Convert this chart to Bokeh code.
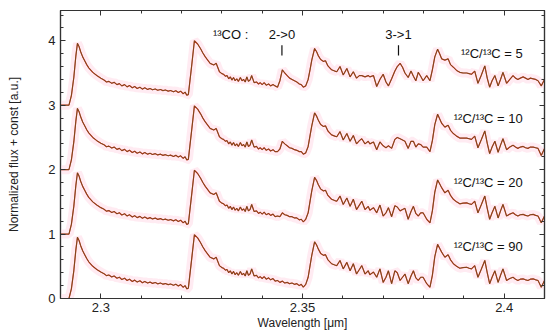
from bokeh.plotting import figure
from bokeh.models import LinearAxis, Range1d, FixedTicker, Label
from bokeh.embed import file_html
from bokeh.resources import INLINE

# ---------------- data ----------------
wavelength = [
    2.2900, 2.2921, 2.2927, 2.2933, 2.2938, 2.2942, 2.2946, 2.2950, 2.2955, 2.2960,
    2.2965, 2.2970, 2.2980, 2.2990, 2.3000, 2.3008, 2.3014, 2.3020, 2.3027, 2.3033,
    2.3040, 2.3046, 2.3052, 2.3059, 2.3065, 2.3071, 2.3078, 2.3084, 2.3090, 2.3097,
    2.3103, 2.3109, 2.3116, 2.3122, 2.3128, 2.3135, 2.3141, 2.3148, 2.3154, 2.3160,
    2.3167, 2.3173, 2.3180, 2.3186, 2.3192, 2.3198, 2.3204, 2.3209, 2.3213, 2.3217,
    2.3225, 2.3232, 2.3240, 2.3247, 2.3253, 2.3259, 2.3265, 2.3271, 2.3280, 2.3286,
    2.3294, 2.3300, 2.3304, 2.3309, 2.3313, 2.3317, 2.3321, 2.3325, 2.3329, 2.3333,
    2.3337, 2.3341, 2.3346, 2.3350, 2.3354, 2.3358, 2.3362, 2.3366, 2.3370, 2.3374,
    2.3380, 2.3386, 2.3391, 2.3395, 2.3400, 2.3405, 2.3410, 2.3416, 2.3421, 2.3427,
    2.3432, 2.3438, 2.3444, 2.3450, 2.3456, 2.3462, 2.3468, 2.3474, 2.3480, 2.3486,
    2.3492, 2.3497, 2.3502, 2.3508, 2.3514, 2.3519, 2.3523, 2.3530, 2.3535, 2.3539,
    2.3545, 2.3552, 2.3557, 2.3563, 2.3572, 2.3580, 2.3585, 2.3593, 2.3601, 2.3610,
    2.3618, 2.3626, 2.3634, 2.3641, 2.3647, 2.3655, 2.3663, 2.3667, 2.3676, 2.3684,
    2.3692, 2.3700, 2.3707, 2.3713, 2.3721, 2.3729, 2.3735, 2.3742, 2.3748, 2.3754,
    2.3762, 2.3769, 2.3775, 2.3781, 2.3787, 2.3793, 2.3799, 2.3808, 2.3816, 2.3822,
    2.3828, 2.3835, 2.3840, 2.3845, 2.3853, 2.3861, 2.3867, 2.3874, 2.3882, 2.3890,
    2.3898, 2.3907, 2.3913, 2.3919, 2.3927, 2.3935, 2.3943, 2.3952, 2.3958, 2.3964,
    2.3970, 2.3977, 2.3985, 2.3991, 2.3997, 2.4006, 2.4014, 2.4022, 2.4028, 2.4034,
    2.4040, 2.4047, 2.4053, 2.4059, 2.4065, 2.4072, 2.4078, 2.4084, 2.4092, 2.4100,
]

flux_r5 = [
    0.00, 0.00, 0.15, 0.43, 0.76, 0.96, 0.91, 0.83, 0.75, 0.69,
    0.63, 0.58, 0.51, 0.46, 0.42, 0.39, 0.36, 0.37, 0.34, 0.355,
    0.32, 0.335, 0.30, 0.32, 0.285, 0.305, 0.27, 0.29, 0.26, 0.28,
    0.25, 0.27, 0.245, 0.26, 0.24, 0.252, 0.232, 0.244, 0.226, 0.236,
    0.218, 0.228, 0.208, 0.225, 0.198, 0.218, 0.178, 0.203, 0.155, 0.165,
    0.60, 1.00, 0.95, 0.88, 0.81, 0.75, 0.70, 0.65, 0.625, 0.65,
    0.52, 0.49, 0.48, 0.45, 0.46, 0.41, 0.44, 0.39, 0.43, 0.38,
    0.41, 0.37, 0.43, 0.38, 0.40, 0.36, 0.44, 0.37, 0.39, 0.46,
    0.35, 0.36, 0.33, 0.35, 0.32, 0.35, 0.31, 0.33, 0.30, 0.32,
    0.30, 0.28, 0.38, 0.55, 0.50, 0.46, 0.42, 0.40, 0.38, 0.36,
    0.33, 0.32, 0.28, 0.30, 0.40, 0.56, 0.70, 0.88, 0.83, 0.77,
    0.71, 0.68, 0.69, 0.61, 0.55, 0.53, 0.52, 0.60, 0.47, 0.57,
    0.44, 0.52, 0.42, 0.46, 0.46, 0.44, 0.46, 0.44, 0.46, 0.29,
    0.40, 0.48, 0.36, 0.30, 0.41, 0.53, 0.60, 0.65, 0.59, 0.50,
    0.43, 0.53, 0.45, 0.38, 0.51, 0.45, 0.38, 0.46, 0.38, 0.55,
    0.75, 0.87, 0.80, 0.72, 0.70, 0.72, 0.63, 0.59, 0.54, 0.51,
    0.50, 0.50, 0.49, 0.48, 0.53, 0.34, 0.46, 0.61, 0.42, 0.28,
    0.38, 0.46, 0.30, 0.40, 0.51, 0.34, 0.40, 0.46, 0.42, 0.40,
    0.42, 0.44, 0.42, 0.40, 0.42, 0.41, 0.40, 0.38, 0.30, 0.40,
]

flux_r10 = [
    0.00, 0.00, 0.15, 0.43, 0.75, 0.95, 0.90, 0.82, 0.74, 0.68,
    0.62, 0.57, 0.50, 0.45, 0.41, 0.385, 0.355, 0.365, 0.335, 0.350,
    0.315, 0.330, 0.295, 0.315, 0.280, 0.300, 0.265, 0.285, 0.255, 0.275,
    0.245, 0.265, 0.240, 0.255, 0.235, 0.248, 0.228, 0.240, 0.222, 0.232,
    0.215, 0.225, 0.205, 0.222, 0.195, 0.215, 0.175, 0.200, 0.150, 0.160,
    0.60, 0.99, 0.94, 0.87, 0.80, 0.74, 0.69, 0.64, 0.615, 0.64,
    0.51, 0.48, 0.47, 0.44, 0.45, 0.40, 0.43, 0.38, 0.42, 0.37,
    0.40, 0.36, 0.42, 0.37, 0.39, 0.35, 0.43, 0.36, 0.38, 0.46,
    0.35, 0.36, 0.32, 0.34, 0.31, 0.34, 0.30, 0.32, 0.29, 0.31,
    0.28, 0.28, 0.32, 0.44, 0.40, 0.37, 0.34, 0.33, 0.31, 0.30,
    0.28, 0.28, 0.24, 0.26, 0.36, 0.54, 0.68, 0.88, 0.83, 0.77,
    0.70, 0.67, 0.68, 0.60, 0.54, 0.52, 0.51, 0.59, 0.46, 0.56,
    0.44, 0.53, 0.40, 0.45, 0.48, 0.40, 0.44, 0.40, 0.43, 0.31,
    0.43, 0.37, 0.34, 0.37, 0.33, 0.47, 0.50, 0.48, 0.46, 0.44,
    0.33, 0.44, 0.44, 0.35, 0.40, 0.39, 0.35, 0.35, 0.28, 0.45,
    0.70, 0.86, 0.79, 0.72, 0.66, 0.69, 0.61, 0.56, 0.52, 0.49,
    0.49, 0.49, 0.48, 0.47, 0.52, 0.34, 0.46, 0.60, 0.41, 0.25,
    0.35, 0.44, 0.27, 0.38, 0.48, 0.31, 0.35, 0.38, 0.35, 0.33,
    0.35, 0.36, 0.34, 0.33, 0.35, 0.35, 0.34, 0.33, 0.22, 0.33,
]

flux_r20 = [
    0.00, 0.00, 0.15, 0.43, 0.75, 0.95, 0.90, 0.82, 0.74, 0.68,
    0.62, 0.57, 0.50, 0.45, 0.41, 0.385, 0.355, 0.365, 0.335, 0.350,
    0.315, 0.330, 0.295, 0.315, 0.280, 0.300, 0.265, 0.285, 0.255, 0.275,
    0.245, 0.265, 0.240, 0.255, 0.235, 0.248, 0.228, 0.240, 0.222, 0.232,
    0.215, 0.225, 0.205, 0.222, 0.195, 0.215, 0.175, 0.200, 0.150, 0.160,
    0.60, 0.99, 0.94, 0.87, 0.80, 0.74, 0.69, 0.64, 0.615, 0.64,
    0.51, 0.48, 0.47, 0.44, 0.45, 0.40, 0.43, 0.38, 0.42, 0.37,
    0.40, 0.36, 0.42, 0.37, 0.39, 0.35, 0.43, 0.36, 0.38, 0.46,
    0.35, 0.36, 0.32, 0.34, 0.31, 0.34, 0.30, 0.32, 0.29, 0.31,
    0.27, 0.28, 0.27, 0.33, 0.30, 0.29, 0.27, 0.27, 0.25, 0.25,
    0.22, 0.23, 0.19, 0.23, 0.33, 0.52, 0.67, 0.88, 0.83, 0.77,
    0.70, 0.67, 0.68, 0.60, 0.54, 0.52, 0.51, 0.59, 0.46, 0.56,
    0.43, 0.54, 0.38, 0.45, 0.51, 0.38, 0.43, 0.37, 0.41, 0.33,
    0.45, 0.28, 0.33, 0.41, 0.27, 0.44, 0.42, 0.36, 0.38, 0.40,
    0.23, 0.35, 0.43, 0.32, 0.28, 0.33, 0.33, 0.23, 0.175, 0.36,
    0.65, 0.84, 0.78, 0.72, 0.64, 0.68, 0.60, 0.54, 0.50, 0.47,
    0.48, 0.485, 0.47, 0.46, 0.51, 0.33, 0.45, 0.59, 0.40, 0.23,
    0.33, 0.43, 0.25, 0.36, 0.46, 0.28, 0.31, 0.33, 0.30, 0.28,
    0.30, 0.305, 0.29, 0.28, 0.30, 0.305, 0.29, 0.28, 0.175, 0.28,
]

flux_r90 = [
    0.00, 0.00, 0.15, 0.43, 0.75, 0.95, 0.90, 0.82, 0.74, 0.68,
    0.62, 0.57, 0.50, 0.45, 0.41, 0.385, 0.355, 0.365, 0.335, 0.350,
    0.315, 0.330, 0.295, 0.315, 0.280, 0.300, 0.265, 0.285, 0.255, 0.275,
    0.245, 0.265, 0.240, 0.255, 0.235, 0.248, 0.228, 0.240, 0.222, 0.232,
    0.215, 0.225, 0.205, 0.222, 0.195, 0.215, 0.175, 0.200, 0.150, 0.160,
    0.60, 0.99, 0.94, 0.87, 0.80, 0.74, 0.69, 0.64, 0.615, 0.64,
    0.51, 0.48, 0.47, 0.44, 0.45, 0.40, 0.43, 0.38, 0.42, 0.37,
    0.40, 0.36, 0.42, 0.37, 0.39, 0.35, 0.43, 0.36, 0.38, 0.46,
    0.35, 0.36, 0.32, 0.34, 0.31, 0.34, 0.30, 0.32, 0.29, 0.31,
    0.27, 0.28, 0.25, 0.27, 0.24, 0.25, 0.23, 0.24, 0.22, 0.23,
    0.20, 0.22, 0.175, 0.22, 0.33, 0.52, 0.67, 0.88, 0.83, 0.77,
    0.70, 0.67, 0.68, 0.60, 0.54, 0.52, 0.51, 0.59, 0.46, 0.56,
    0.43, 0.54, 0.38, 0.45, 0.51, 0.38, 0.43, 0.37, 0.41, 0.33,
    0.46, 0.25, 0.33, 0.43, 0.23, 0.43, 0.40, 0.28, 0.33, 0.38,
    0.23, 0.35, 0.43, 0.32, 0.28, 0.33, 0.33, 0.23, 0.175, 0.36,
    0.65, 0.84, 0.78, 0.72, 0.64, 0.68, 0.60, 0.54, 0.50, 0.47,
    0.48, 0.485, 0.47, 0.46, 0.51, 0.33, 0.45, 0.59, 0.40, 0.23,
    0.33, 0.43, 0.25, 0.36, 0.46, 0.28, 0.31, 0.33, 0.30, 0.28,
    0.30, 0.305, 0.29, 0.28, 0.30, 0.305, 0.29, 0.28, 0.175, 0.28,
]

spectra = [flux_r5, flux_r10, flux_r20, flux_r90]
offsets = [3, 2, 1, 0]
ratio_labels = ["¹²C/¹³C = 5", "¹²C/¹³C = 10", "¹²C/¹³C = 20", "¹²C/¹³C = 90"]

band_labels = ["2->0", "3->1"]
band_wavelengths = [2.3449, 2.3738]

x_major_ticks = [2.30, 2.35, 2.40]
x_minor_ticks = [2.29, 2.31, 2.32, 2.33, 2.34, 2.36, 2.37, 2.38, 2.39, 2.41]
y_major_ticks = [0, 1, 2, 3, 4]
y_minor_ticks = [0.2, 0.4, 0.6, 0.8, 1.2, 1.4, 1.6, 1.8, 2.2, 2.4, 2.6, 2.8,
                 3.2, 3.4, 3.6, 3.8, 4.2, 4.4]

# ---------------- figure ----------------
FONT = "Liberation Sans"
AX = "#333333"

p = figure(frame_width=484, frame_height=288,
           x_range=Range1d(2.290, 2.410), y_range=Range1d(0, 4.47),
           output_backend="svg", toolbar_location=None,
           min_border_left=60, min_border_right=4, min_border_top=10,
           min_border_bottom=30, background_fill_color="white")
p.grid.visible = False
p.outline_line_color = AX
p.outline_line_width = 1.2

xt = FixedTicker(ticks=x_major_ticks, minor_ticks=x_minor_ticks)
yt = FixedTicker(ticks=y_major_ticks, minor_ticks=y_minor_ticks)


def style_axis(ax):
    ax.axis_line_color = AX
    ax.axis_line_width = 1.2
    ax.major_tick_line_color = AX
    ax.minor_tick_line_color = AX
    ax.major_tick_in = 5
    ax.major_tick_out = 0
    ax.minor_tick_in = 3
    ax.minor_tick_out = 0
    ax.major_label_text_font = FONT
    ax.major_label_text_font_size = "13px"
    ax.major_label_text_color = "#222222"
    ax.axis_label_text_font = FONT
    ax.axis_label_text_font_size = "12px"
    ax.axis_label_text_font_style = "normal"
    ax.axis_label_text_color = "#222222"


p.xaxis.ticker = xt
p.yaxis.ticker = yt
style_axis(p.xaxis[0])
style_axis(p.yaxis[0])
p.xaxis.axis_label = "Wavelength [μm]"
p.yaxis.axis_label = "Normalized flux + const [a.u.]"
p.xaxis.major_label_standoff = 4
p.yaxis.major_label_standoff = 5
p.xaxis.axis_label_standoff = 1
p.yaxis.axis_label_standoff = 24

# tick-only axes on top and right (no labels)
top_ax = LinearAxis(ticker=xt, major_label_text_font_size="0px",
                    major_label_standoff=0)
right_ax = LinearAxis(ticker=yt, major_label_text_font_size="0px",
                      major_label_standoff=0)
for ax in (top_ax, right_ax):
    ax.axis_line_color = AX
    ax.axis_line_width = 1.2
    ax.major_tick_line_color = AX
    ax.minor_tick_line_color = AX
    ax.major_tick_in = 5
    ax.major_tick_out = 0
    ax.minor_tick_in = 3
    ax.minor_tick_out = 0
    ax.major_label_text_alpha = 0
p.add_layout(top_ax, "above")
p.add_layout(right_ax, "right")

# ---------------- spectra ----------------
for flux, off in zip(spectra, offsets):
    ys = [f + off for f in flux]
    p.line(wavelength, ys, line_color="#ffe6ef", line_width=9, line_alpha=0.8)
for flux, off in zip(spectra, offsets):
    ys = [f + off for f in flux]
    p.line(wavelength, ys, line_color="#d82a20", line_width=1.2)
    p.line(wavelength, ys, line_color="#4a5a18", line_width=1.0, line_alpha=0.65)

# ---------------- annotations ----------------
for lab, off in zip(ratio_labels, offsets):
    p.add_layout(Label(x=2.4046, y=off + 0.80, text=lab, text_align="right",
                       text_baseline="middle", text_font=FONT,
                       text_font_size="13px", text_color="#111111"))

p.add_layout(Label(x=2.3278, y=4.09, text="¹³CO :", text_align="left",
                   text_baseline="middle", text_font=FONT,
                   text_font_size="13px", text_color="#111111"))
for lab, wl in zip(band_labels, band_wavelengths):
    p.add_layout(Label(x=wl, y=4.09, text=lab, text_align="center",
                       text_baseline="middle", text_font=FONT,
                       text_font_size="13px", text_color="#111111"))
p.segment(x0=band_wavelengths, y0=[3.77, 3.77], x1=band_wavelengths,
          y1=[3.93, 3.93], line_color="#111111", line_width=1.2)

open("out.html", "w").write(file_html(p, INLINE))
